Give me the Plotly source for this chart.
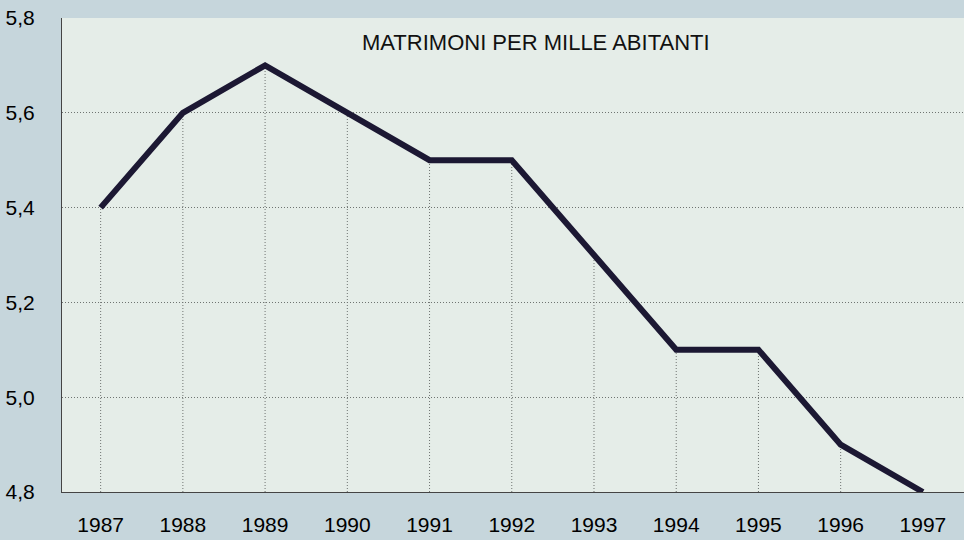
'''
Matrimoni per mille abitanti, 1987-1997
'''

import plotly.graph_objects as go

years = [1987, 1988, 1989, 1990, 1991, 1992, 1993, 1994, 1995, 1996, 1997]
rate = [5.4, 5.6, 5.7, 5.6, 5.5, 5.5, 5.3, 5.1, 5.1, 4.9, 4.8]
y_ticks = [4.8, 5.0, 5.2, 5.4, 5.6, 5.8]
title_text = "MATRIMONI PER MILLE ABITANTI"

bg_color = '#c6d6dc'
y_floor = min(y_ticks)

# drop lines from each point down to the x axis
drop_x, drop_y = [], []
for yr, v in zip(years, rate):
    drop_x += [yr, yr, None]
    drop_y += [y_floor, v, None]

fig = go.Figure()

fig.add_trace(go.Scatter(
    x=drop_x, y=drop_y, mode='lines',
    line=dict(color='#6f7471', width=1, dash='1px,2px'),
    hoverinfo='skip', showlegend=False
))

fig.add_trace(go.Scatter(
    x=years, y=rate, mode='lines',
    line=dict(color='#1c1833', width=6),
    showlegend=False
))

fig.add_annotation(
    text=title_text, xref='paper', yref='paper', x=0.526, y=0.949,
    showarrow=False, xanchor='center', yanchor='middle',
    font=dict(size=22, color='#111111')
)

fig.update_xaxes(
    range=[1986.53, 1997.5], tickvals=years, showgrid=False,
    showline=True, linecolor='#444444', linewidth=1,
    ticks='', ticklabelstandoff=14,
    tickfont=dict(size=21, color='#000000'), zeroline=False
)
fig.update_yaxes(
    range=[4.8, 5.8], tickvals=y_ticks, tickformat='.1f',
    showgrid=True, gridcolor='#6f7471', griddash='1px,2px', gridwidth=1,
    showline=True, linecolor='#444444', linewidth=1, mirror=True,
    ticks='', ticklabelstandoff=22,
    tickfont=dict(size=21, color='#000000'), zeroline=False
)

fig.update_layout(
    width=964, height=540,
    margin=dict(l=62, r=0, t=18, b=48),
    paper_bgcolor=bg_color,
    plot_bgcolor='#e5ede8',
    separators=', ',
    font=dict(family='Liberation Sans, Arial, sans-serif')
)

fig.write_html(
    "out.html",
    config={'displayModeBar': False},
    post_script="document.body.style.margin='0';document.body.style.background='%s';" % bg_color
)
